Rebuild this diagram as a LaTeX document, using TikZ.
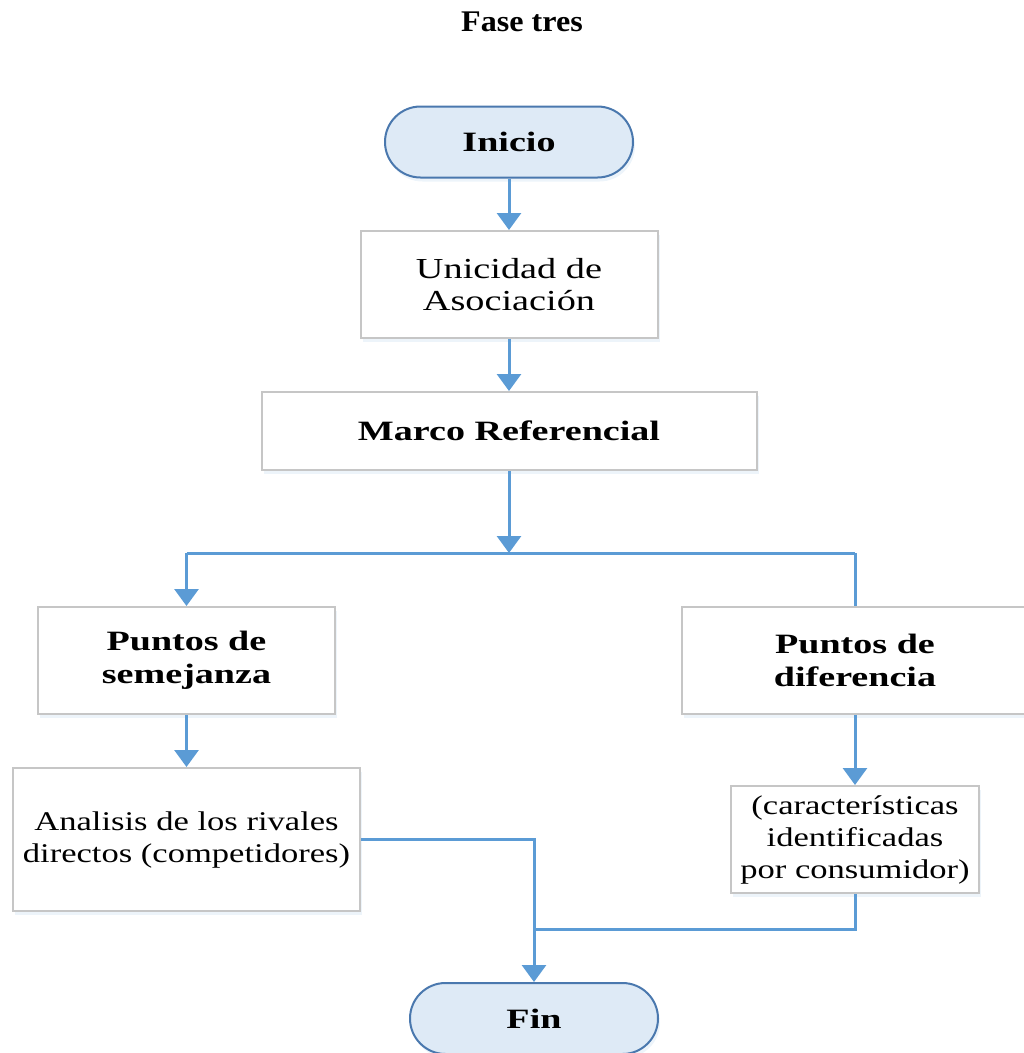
\documentclass[tikz,border=0pt]{standalone}
\usepackage{fontspec}
\setmainfont{Liberation Serif}
\newfontfamily\titlefont{Liberation Serif}[FakeStretch=1.07]
\newfontfamily\boldboxfont{Liberation Serif}[FakeStretch=1.36]
\newfontfamily\plainboxfont{Liberation Serif}[FakeStretch=1.28]
\newfontfamily\wideboxfont{Liberation Serif}[FakeStretch=1.32]
\usetikzlibrary{arrows.meta,shapes.misc,shadows}

\definecolor{linkblue}{HTML}{5B9BD5}
\definecolor{termfill}{HTML}{DEEAF6}
\definecolor{termline}{HTML}{4A78AE}
\definecolor{boxline}{HTML}{C6C6C6}

\tikzset{
  procbox/.style={rectangle, draw=boxline, line width=2pt, fill=white,
    align=center, inner sep=0pt,
    drop shadow={shadow xshift=2pt, shadow yshift=-4pt, opacity=0.18, fill=linkblue!60}},
  termbox/.style={rounded rectangle, draw=termline, line width=2pt, fill=termfill,
    inner sep=0pt, minimum width=248pt, minimum height=71pt,
    font=\boldboxfont\fontsize{28}{32}\selectfont\bfseries,
    drop shadow={shadow xshift=2pt, shadow yshift=-4pt, opacity=0.18, fill=linkblue!60}},
  boldtext/.style={font=\boldboxfont\fontsize{28}{33}\selectfont\bfseries},
  plaintext/.style={font=\plainboxfont\fontsize{27}{32}\selectfont},
  largetext/.style={font=\wideboxfont\fontsize{29}{32}\selectfont},
  link/.style={draw=linkblue, line width=3pt},
  arrowlink/.style={link, -{Triangle[width=24pt,length=17pt]}}
}

\begin{document}
\begin{tikzpicture}[x=1pt,y=-1pt]
  \useasboundingbox (0,0) rectangle (1024,1053);
  \clip (0,0) rectangle (1024,1053);

  % heading
  \node[font=\titlefont\fontsize{30}{34}\selectfont\bfseries] (title) at (522,22) {Fase tres};

  % flow steps
  \node[termbox] (inicio) at (509,142) {Inicio};
  \node[procbox, largetext, minimum width=297pt, minimum height=107pt] (uni) at (509,284.5)
    {Unicidad de\\Asociación};
  \node[procbox, boldtext, minimum width=495pt, minimum height=78pt] (marco) at (509,431)
    {Marco Referencial};
  \node[procbox, boldtext, minimum width=297pt, minimum height=107pt] (sem) at (186.5,660.5)
    {Puntos de\\semejanza};
  \node[procbox, boldtext, minimum width=346pt, minimum height=107pt] (dif) at (855,660.5)
    {Puntos de\\diferencia};
  \node[procbox, plaintext, minimum width=347pt, minimum height=143pt] (ana) at (186.5,839.5)
    {Analisis de los rivales\\directos (competidores)};
  \node[procbox, plaintext, minimum width=248pt, minimum height=107pt] (car) at (855,839.5)
    {(características\\identificadas\\por consumidor)};
  \node[termbox] (fin) at (534,1018.5) {Fin};

  % branch and merge points
  \coordinate (split) at (marco.south |- 0,553);
  \coordinate (splitL) at (sem.north |- split);
  \coordinate (splitR) at (dif.north |- split);
  \coordinate (joinA) at (fin.north |- ana.east);
  \coordinate (joinB) at (car.south |- 0,929);
  \coordinate (joinC) at (fin.north |- joinB);

  % connectors
  \draw[arrowlink] (inicio.south) -- (uni.north);
  \draw[arrowlink] (uni.south) -- (marco.north);
  \draw[arrowlink] (marco.south) -- (split);
  \draw[link] (splitL) -- (splitR);
  \draw[arrowlink] (splitL) -- (sem.north);
  \draw[link] (splitR) -- (dif.north);
  \draw[arrowlink] (sem.south) -- (ana.north);
  \draw[arrowlink] (dif.south) -- (car.north);
  \draw[arrowlink] (ana.east) -- (joinA) -- (fin.north);
  \draw[link] (car.south) -- (joinB) -- (joinC);
\end{tikzpicture}
\end{document}
